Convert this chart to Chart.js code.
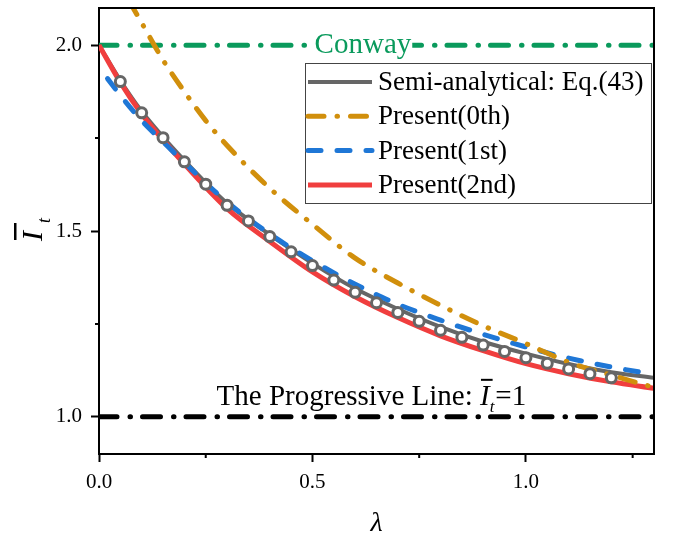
<!DOCTYPE html>
<html>
<head>
<meta charset="utf-8">
<script src="https://cdn.jsdelivr.net/npm/chart.js@4.4.1/dist/chart.umd.min.js"></script>
<style>
html, body { margin: 0; padding: 0; background: #fff; }
#wrap { width: 678px; height: 536px; }
</style>
</head>
<body>
<div id="wrap"><canvas id="chart" width="678" height="536"></canvas></div>
<script>
// values (lambda -> I_t)
let semiX = [0, 0.05, 0.1, 0.15, 0.2, 0.25, 0.3, 0.4, 0.5, 0.6, 0.7, 0.8, 0.9, 1.0, 1.1, 1.2, 1.3];
let semiY = [2.0, 1.905, 1.822, 1.753, 1.69, 1.63, 1.575, 1.49, 1.413, 1.345, 1.29, 1.242, 1.202, 1.17, 1.142, 1.12, 1.105];

let markX = [0.05, 0.1, 0.15, 0.2, 0.25, 0.3, 0.35, 0.4, 0.45, 0.5, 0.55, 0.6,
             0.65, 0.7, 0.75, 0.8, 0.85, 0.9, 0.95, 1.0, 1.05, 1.1, 1.15, 1.2];
let markY = [1.902, 1.818, 1.751, 1.686, 1.626, 1.569, 1.527, 1.485, 1.444, 1.407, 1.368, 1.335,
             1.307, 1.281, 1.257, 1.233, 1.214, 1.193, 1.176, 1.159, 1.144, 1.129, 1.116, 1.105];

let zeroX = [0.07, 0.1, 0.15, 0.2, 0.25, 0.3, 0.4, 0.5, 0.6, 0.7, 0.8, 0.9, 1.0, 1.1, 1.2, 1.3];
let zeroY = [2.12, 2.06, 1.96, 1.875, 1.797, 1.73, 1.615, 1.518, 1.427, 1.36, 1.30, 1.245, 1.197, 1.147, 1.112, 1.079];

let firstX = [0.02, 0.05, 0.1, 0.15, 0.2, 0.3, 0.4, 0.5, 0.6, 0.7, 0.8, 0.9, 1.0, 1.1, 1.2, 1.3];
let firstY = [1.91, 1.865, 1.797, 1.74, 1.684, 1.578, 1.492, 1.42, 1.357, 1.303, 1.26, 1.222, 1.188, 1.158, 1.134, 1.114];

let secondX = [0, 0.05, 0.1, 0.15, 0.2, 0.3, 0.4, 0.5, 0.6, 0.7, 0.8, 0.9, 1.0, 1.1, 1.2, 1.3];
let secondY = [2.0, 1.9, 1.815, 1.745, 1.68, 1.56, 1.472, 1.39, 1.323, 1.267, 1.218, 1.178, 1.143, 1.116, 1.094, 1.077];

let refX = [0, 1.3];
let conwayY = [2.0, 2.0];
let progressiveY = [1.0, 1.0];

let xTicks = [0, 0.5, 1.0];
let xMinor = [0.25, 0.75, 1.25];
let yTicks = [1.0, 1.5, 2.0];
let yMinor = [1.25, 1.75];

let legendLabels = ["Semi-analytical: Eq.(43)", "Present(0th)", "Present(1st)", "Present(2nd)"];

const GRAY = "#666666";
const ORANGE = "#D18F0C";
const BLUE = "#1F77D6";
const RED = "#F03E3E";
const GREEN = "#0A9A5C";
const SERIF = '"Liberation Serif", "Times New Roman", serif';

function pts(xs, ys) {
    return xs.map((x, i) => ({ x: x, y: ys[i] }));
}

function line(label, xs, ys, color, width, dash) {
    return {
        label: label,
        data: pts(xs, ys),
        borderColor: color,
        backgroundColor: color,
        borderWidth: width,
        borderDash: dash || [],
        borderCapStyle: dash ? "round" : "butt",
        pointRadius: 0,
        cubicInterpolationMode: "monotone",
        fill: false
    };
}

// first dataset ends up on top
let datasets = [
    {
        label: "marks",
        data: pts(markX, markY),
        showLine: false,
        pointRadius: 5,
        pointBorderWidth: 3,
        pointBorderColor: GRAY,
        pointBackgroundColor: "#fff"
    },
    line("Present(0th)", zeroX, zeroY, ORANGE, 5, [16, 13, 0.5, 13]),
    line("Present(1st)", firstX, firstY, BLUE, 5, [13, 16]),
    line("Present(2nd)", secondX, secondY, RED, 5),
    line("Semi-analytical: Eq.(43)", semiX, semiY, GRAY, 4),
    line("Conway", refX, conwayY, GREEN, 5, [18, 13, 0.5, 12]),
    line("Progressive", refX, progressiveY, "#000", 5, [18, 13, 0.5, 12])
];

const decor = {
    id: "decor",
    afterDatasetsDraw(chart) {
        let ctx = chart.ctx;
        let a = chart.chartArea;
        let xs = chart.scales.x;
        let ys = chart.scales.y;
        ctx.save();

        // top and right frame
        ctx.strokeStyle = "#000";
        ctx.lineWidth = 2;
        ctx.beginPath();
        ctx.moveTo(a.left, a.top);
        ctx.lineTo(a.right, a.top);
        ctx.lineTo(a.right, a.bottom);
        ctx.stroke();

        // minor ticks
        ctx.beginPath();
        xMinor.forEach(v => {
            let px = xs.getPixelForValue(v);
            ctx.moveTo(px, a.bottom);
            ctx.lineTo(px, a.bottom + 4);
        });
        yMinor.forEach(v => {
            let py = ys.getPixelForValue(v);
            ctx.moveTo(a.left, py);
            ctx.lineTo(a.left - 4, py);
        });
        ctx.stroke();

        // Conway label sits on the green line
        ctx.font = "29px " + SERIF;
        let cx = xs.getPixelForValue(0.505);
        let cy = ys.getPixelForValue(2.0);
        let cw = ctx.measureText("Conway").width;
        ctx.fillStyle = "#fff";
        ctx.fillRect(cx - 1, cy - 5, cw + 2, 10);
        ctx.fillStyle = GREEN;
        ctx.textBaseline = "alphabetic";
        ctx.fillText("Conway", cx, cy + 8);

        // progressive line label
        let px = xs.getPixelForValue(0.2755);
        let py = ys.getPixelForValue(1.0) - 12;
        ctx.fillStyle = "#000";
        ctx.font = "29px " + SERIF;
        let head = "The Progressive Line: ";
        ctx.fillText(head, px, py);
        px += ctx.measureText(head).width;
        ctx.font = "italic 29px " + SERIF;
        ctx.fillText("I", px, py);
        let iw = ctx.measureText("I").width;
        ctx.fillRect(px + 1, py - 26, iw + 2, 2);
        px += iw;
        ctx.font = "italic 17px " + SERIF;
        ctx.fillText("t", px, py + 7);
        px += ctx.measureText("t").width + 1;
        ctx.font = "29px " + SERIF;
        ctx.fillText("=1", px, py);

        // legend
        let lx = 305, ly = 63, lw = 346, lh = 140;
        ctx.fillStyle = "#fff";
        ctx.fillRect(lx, ly, lw, lh);
        ctx.strokeStyle = "#444";
        ctx.lineWidth = 1;
        ctx.strokeRect(lx + 0.5, ly + 0.5, lw, lh);
        ctx.font = "27px " + SERIF;
        ctx.textBaseline = "middle";
        legendLabels.forEach((lab, i) => {
            let ds = chart.data.datasets.find(d => d.label === lab);
            let ry = ly + 19 + i * 34.3;
            ctx.save();
            ctx.strokeStyle = ds.borderColor;
            ctx.lineWidth = ds.borderWidth;
            ctx.lineCap = ds.borderCapStyle;
            ctx.setLineDash(ds.borderDash);
            ctx.beginPath();
            ctx.moveTo(lx + 3, ry);
            ctx.lineTo(lx + 67, ry);
            ctx.stroke();
            ctx.restore();
            ctx.fillStyle = "#000";
            ctx.fillText(lab, lx + 73, ry + 1);
        });

        // axis titles
        ctx.textBaseline = "alphabetic";
        ctx.font = "italic 28px " + SERIF;
        ctx.textAlign = "center";
        ctx.fillText("\u03bb", (a.left + a.right) / 2, 531);
        ctx.textAlign = "left";

        ctx.translate(42, 241);
        ctx.rotate(-Math.PI / 2);
        ctx.font = "italic 30px " + SERIF;
        ctx.fillText("I", 0, 0);
        ctx.fillRect(1, -28, 17, 2.5);
        ctx.font = "italic 18px " + SERIF;
        ctx.fillText("t", 18, 8);

        ctx.restore();
    }
};

new Chart(document.getElementById("chart"), {
    type: "line",
    data: { datasets: datasets },
    options: {
        responsive: false,
        animation: false,
        layout: { padding: { left: 0, right: 24, top: 3, bottom: 0 } },
        plugins: {
            legend: { display: false },
            tooltip: { enabled: false }
        },
        scales: {
            x: {
                type: "linear",
                min: 0,
                max: 1.3,
                afterFit(scale) {
                    scale.height = 82;
                    scale.paddingLeft = 0;
                    scale.paddingRight = 0;
                },
                afterBuildTicks(scale) { scale.ticks = xTicks.map(v => ({ value: v })); },
                border: { display: true, color: "#000", width: 2 },
                grid: { drawOnChartArea: false, drawTicks: true, tickLength: 8, tickWidth: 2, tickColor: "#000" },
                ticks: {
                    color: "#000",
                    padding: 8,
                    maxRotation: 0,
                    font: { family: SERIF, size: 21 },
                    callback: v => Number(v).toFixed(1)
                }
            },
            y: {
                type: "linear",
                min: 0.9,
                max: 2.1,
                afterFit(scale) {
                    scale.width = 99;
                    scale.paddingTop = 0;
                    scale.paddingBottom = 0;
                },
                afterBuildTicks(scale) { scale.ticks = yTicks.map(v => ({ value: v })); },
                border: { display: true, color: "#000", width: 2 },
                grid: { drawOnChartArea: false, drawTicks: true, tickLength: 8, tickWidth: 2, tickColor: "#000" },
                ticks: {
                    color: "#000",
                    padding: 9,
                    font: { family: SERIF, size: 21 },
                    callback: v => Number(v).toFixed(1)
                }
            }
        }
    },
    plugins: [decor]
});
</script>
</body>
</html>
